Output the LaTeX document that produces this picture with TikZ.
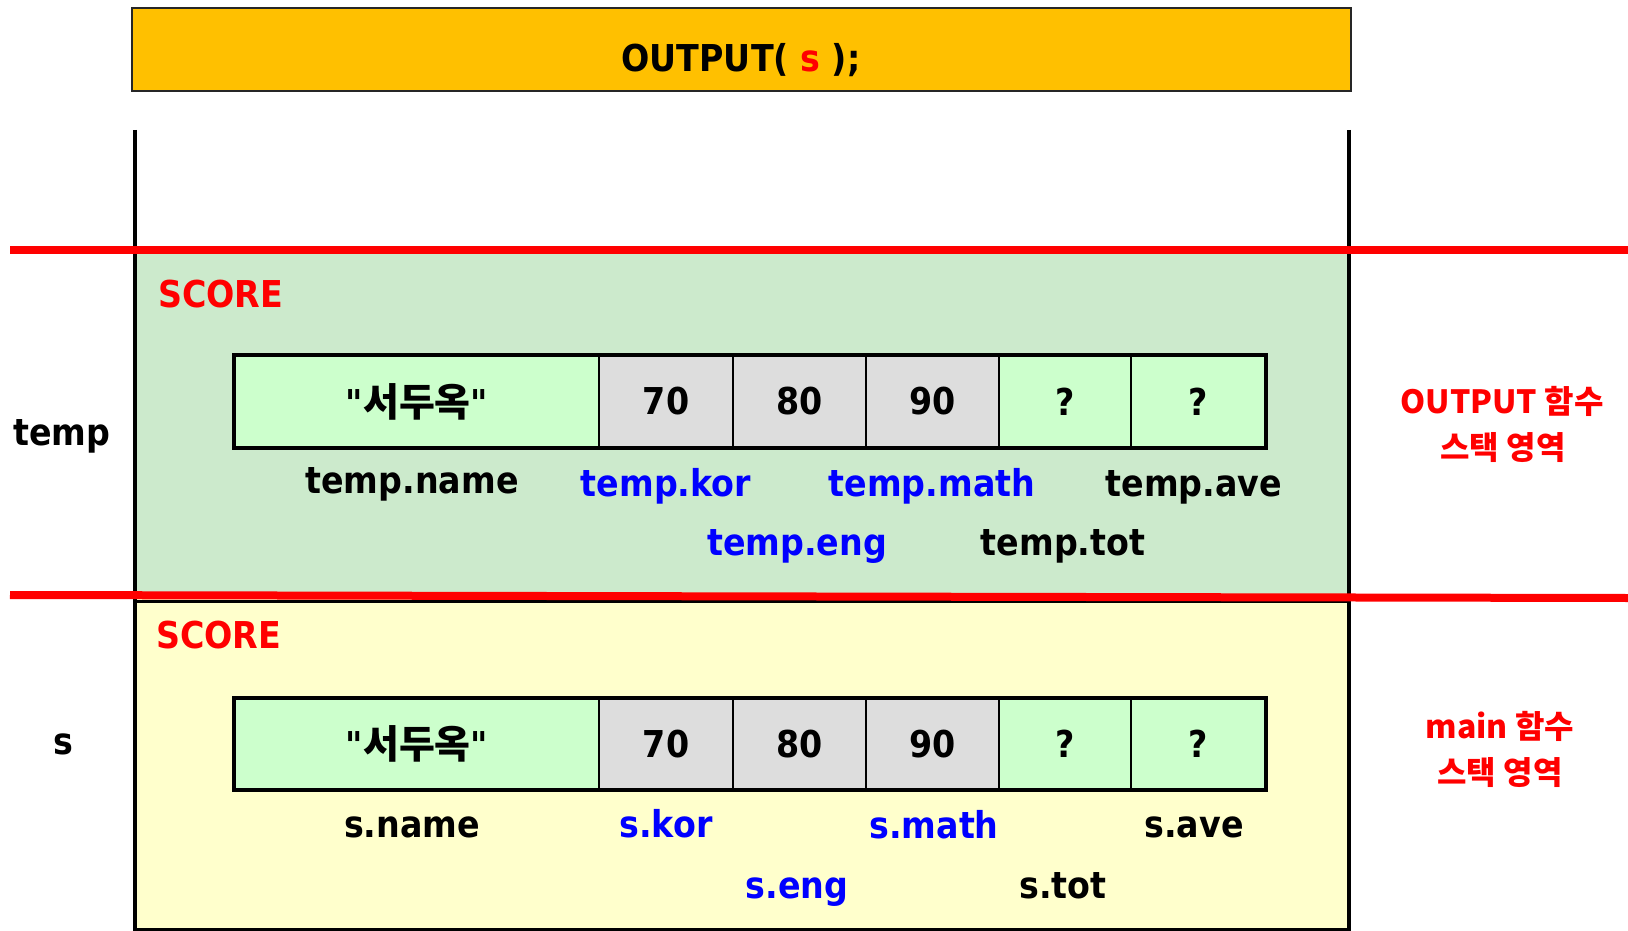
\documentclass[tikz,border=0pt]{standalone}
\usepackage{fontspec}
\newfontfamily\lab[FakeStretch=0.9]{DejaVu Sans}
\newfontfamily\kr{Noto Sans CJK KR}
\definecolor{gold}{HTML}{FFC000}
\definecolor{framegreen}{HTML}{CCEACC}
\definecolor{cellgreen}{HTML}{CCFFCC}
\definecolor{cellgray}{HTML}{DDDDDD}
\definecolor{paleyellow}{HTML}{FFFFCC}
\definecolor{stackred}{HTML}{FF0000}
\definecolor{fieldblue}{HTML}{0000FF}

% one row of a SCORE record: #1 = name prefix, #2 = centre y, #3 = height
\newcommand{\scorerow}[3]{%
  \node[cell, fill=cellgreen, minimum width=364, minimum height=#3] (#1name) at (417,#2)
    {\lab\bfseries"\kr\bfseries\fontsize{39}{44}\selectfont 서두옥\lab\bfseries\fontsize{37}{44}\selectfont"};
  \node[cell, fill=cellgray,  minimum width=134, minimum height=#3] (#1kor)  at (666,#2)   {70};
  \node[cell, fill=cellgray,  minimum width=133, minimum height=#3] (#1eng)  at (799.5,#2) {80};
  \node[cell, fill=cellgray,  minimum width=133, minimum height=#3] (#1math) at (932.5,#2) {90};
  \node[cell, fill=cellgreen, minimum width=132, minimum height=#3] (#1tot)  at (1065,#2)  {?};
  \node[cell, fill=cellgreen, minimum width=134, minimum height=#3] (#1ave)  at (1198,#2)  {?};
  \draw[line width=4] (#1name.north west) rectangle (#1ave.south east);
}

\begin{document}
\begin{tikzpicture}[x=1pt,y=-1pt,
  txt/.style={font=\lab\bfseries\fontsize{37}{44}\selectfont, inner sep=0, anchor=base},
  field/.style={txt, text=fieldblue},
  side/.style={font=\kr\bfseries\fontsize{32}{45}\selectfont, text=stackred, inner sep=0, anchor=base},
  cell/.style={draw, line width=1.2, inner sep=0,
    font=\lab\bfseries\fontsize{37}{44}\selectfont},
  redline/.style={stackred, line width=8},
  wall/.style={black, line width=4.5},
]
\useasboundingbox (0,0) rectangle (1628,931);

% stack regions
\fill[framegreen] (135,250) rectangle (1349,595);
\fill[paleyellow] (135,599) rectangle (1349,929);
\draw[line width=3] (135,601) rectangle (1349,929);
\draw[wall] (135,130) -- (135,931);
\draw[wall] (1349,130) -- (1349,931);
\draw[redline] (10,250) -- (1628,250);
\draw[redline] (10,595) -- (1628,598);

% function call
\node[draw=black!85, line width=2.5, fill=gold, minimum width=1219, minimum height=83,
  inner sep=0] (call) at (741.5,49.5) {};
\node[txt] (calltext) at (741,72) {OUTPUT( \textcolor{stackred}{s} );};

% OUTPUT frame: parameter temp
\node[txt, text=stackred, anchor=base west] (score1) at (158,307) {SCORE};
\node[txt] (tempvar) at (62,445) {temp};
\scorerow{t}{401.5}{91}
\node[txt]   (tname) at (412,493) {temp.name};
\node[field] (tkor)  at (666,496) {temp.kor};
\node[field] (tmath) at (932,496) {temp.math};
\node[txt]   (tave)  at (1194,496) {temp.ave};
\node[field] (teng)  at (797,555) {temp.eng};
\node[txt]   (ttot)  at (1063,555) {temp.tot};

% main frame: variable s
\node[txt, text=stackred, anchor=base west] (score2) at (156,648) {SCORE};
\node[txt] (svar) at (63,754) {s};
\scorerow{s}{744}{90}
\node[txt]   (sname) at (412,837) {s.name};
\node[field] (skor)  at (666,837) {s.kor};
\node[field] (smath) at (934,838) {s.math};
\node[txt]   (save)  at (1194,837) {s.ave};
\node[field] (seng)  at (797,898) {s.eng};
\node[txt]   (stot)  at (1063,898) {s.tot};

% frame captions
\node[side] (cap1a) at (1502,413) {OUTPUT 함수};
\node[side] (cap1b) at (1503,459) {스택 영역};
\node[side] (cap2a) at (1500,738) {main 함수};
\node[side] (cap2b) at (1500,784) {스택 영역};
\end{tikzpicture}
\end{document}
